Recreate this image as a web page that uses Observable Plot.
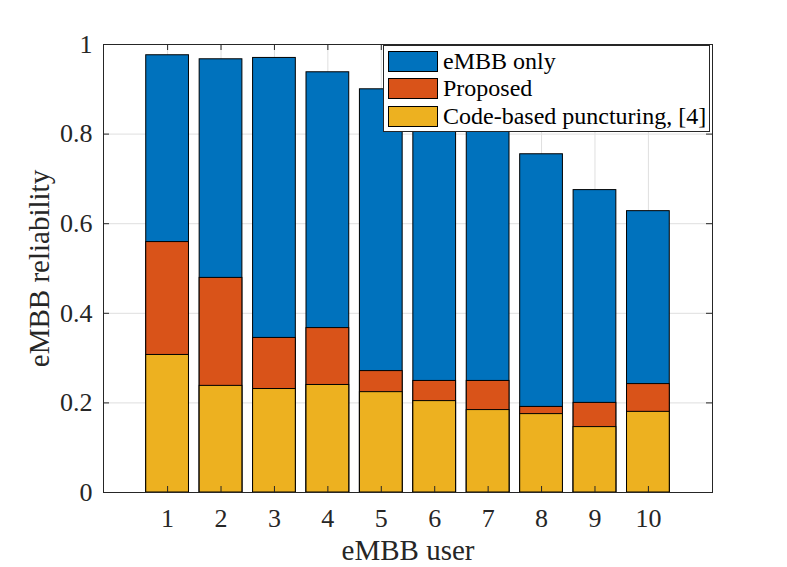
<!DOCTYPE html>
<html>
<head>
<meta charset="utf-8">
<script src="https://cdn.jsdelivr.net/npm/d3@7"></script>
<script src="https://cdn.jsdelivr.net/npm/@observablehq/plot@0.6"></script>
<style>
  html, body { margin: 0; padding: 0; background: #fff; }
  #wrap { position: relative; width: 787px; height: 567px; font-family: "Liberation Serif", "Times New Roman", serif; color: #262626; }
  #legend { position: absolute; left: 383px; top: 45px; width: 327px; height: 87px; box-sizing: border-box;
            border: 1px solid #262626; background: #fff; }
  .row { position: absolute; left: 4px; height: 21px; display: flex; align-items: center; }
  .sw { width: 50px; height: 21px; box-sizing: border-box; border: 1px solid #000; }
  .lab { margin-left: 5px; font-size: 24px; color: #000; white-space: nowrap; line-height: 21px; }
</style>
</head>
<body>
<div id="wrap"></div>
<script>
// ---- data ----
const users = [1, 2, 3, 4, 5, 6, 7, 8, 9, 10];
const embbOnly = [0.976, 0.967, 0.970, 0.938, 0.900, 0.870, 0.835, 0.755, 0.675, 0.628];
const proposed = [0.559, 0.479, 0.345, 0.367, 0.271, 0.249, 0.249, 0.191, 0.200, 0.242];
const codeBased = [0.307, 0.238, 0.231, 0.240, 0.224, 0.204, 0.184, 0.175, 0.146, 0.180];
const seriesNames = ["eMBB only", "Proposed", "Code-based puncturing, [4]"];
const seriesColors = ["#0072BD", "#D95319", "#EDB120"];
const xTicks = [1, 2, 3, 4, 5, 6, 7, 8, 9, 10];
const yTicks = [0, 0.2, 0.4, 0.6, 0.8, 1];
const yTickLabels = ["0", "0.2", "0.4", "0.6", "0.8", "1"];
const xLabel = "eMBB user";
const yLabel = "eMBB reliability";

// ---- build ----
const seriesValues = [embbOnly, proposed, codeBased];
const rows = [];
seriesValues.forEach((vals, s) => users.forEach((u, i) => rows.push({series: seriesNames[s], user: u, value: vals[i]})));

const W = 787, H = 567, mL = 103, mR = 75, mT = 44, mB = 75;
const pw = W - mL - mR, ph = H - mT - mB;
const ink = "#262626";
const font = "'Liberation Serif', 'Times New Roman', serif";
const halfBar = 0.4;

const chart = Plot.plot({
  width: W, height: H,
  marginLeft: mL, marginRight: mR, marginTop: mT, marginBottom: mB,
  style: {fontFamily: font, color: ink, background: "#fff", overflow: "visible"},
  x: {domain: [-0.2, 11.2], axis: null},
  y: {domain: [0, 1], axis: null},
  color: {domain: seriesNames, range: seriesColors},
  marks: [
    Plot.gridY(yTicks, {stroke: "#dfdfdf", strokeOpacity: 1}),
    Plot.gridX(xTicks, {stroke: "#dfdfdf", strokeOpacity: 1}),
    ...seriesNames.map(name => Plot.rectY(rows.filter(d => d.series === name), {
      x1: d => d.user - halfBar, x2: d => d.user + halfBar, y1: 0, y2: "value",
      fill: "series", stroke: "#000", strokeWidth: 1
    })),
    // inward ticks
    Plot.tickY(yTicks, {y: d => d, insetRight: pw - 6, stroke: ink}),
    Plot.tickY(yTicks, {y: d => d, insetLeft: pw - 6, stroke: ink}),
    Plot.tickX(xTicks, {x: d => d, insetTop: ph - 6, stroke: ink}),
    Plot.tickX(xTicks, {x: d => d, insetBottom: ph - 6, stroke: ink}),
    Plot.frame({stroke: ink, strokeWidth: 1}),
    Plot.axisY(yTicks, {anchor: "left", tickSize: 0, tickPadding: 11, fontSize: 26, label: null,
      tickFormat: d => yTickLabels[yTicks.indexOf(d)], fill: ink}),
    Plot.axisX(xTicks, {anchor: "bottom", tickSize: 0, tickPadding: 16, fontSize: 26, label: null, fill: ink}),
    Plot.text([xLabel], {frameAnchor: "bottom", textAnchor: "middle", lineAnchor: "bottom", dy: 67, fontSize: 29, fill: ink}),
    Plot.text([yLabel], {frameAnchor: "left", textAnchor: "middle", lineAnchor: "bottom", rotate: -90, dx: -55, fontSize: 29, fill: ink})
  ]
});

const wrap = document.getElementById("wrap");
wrap.appendChild(chart);

// legend
const legend = document.createElement("div");
legend.id = "legend";
seriesNames.forEach((name, i) => {
  const row = document.createElement("div");
  row.className = "row";
  row.style.top = (4.7 + i * 27.7) + "px";
  const sw = document.createElement("div");
  sw.className = "sw";
  sw.style.background = seriesColors[i];
  const lab = document.createElement("span");
  lab.className = "lab";
  lab.textContent = name;
  row.appendChild(sw); row.appendChild(lab);
  legend.appendChild(row);
});
wrap.appendChild(legend);
</script>
</body>
</html>
